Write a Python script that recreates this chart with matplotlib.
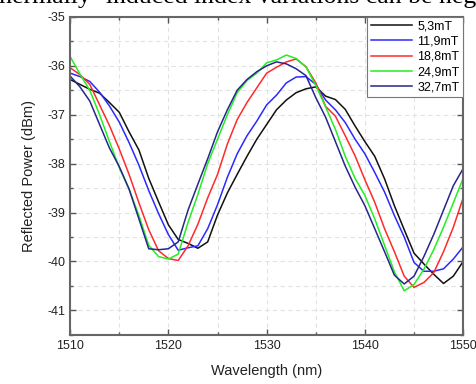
import matplotlib
matplotlib.use("Agg")
import matplotlib.pyplot as plt
from matplotlib.ticker import MultipleLocator

plt.rcParams['font.family'] = ['Liberation Sans', 'DejaVu Sans']
plt.rcParams['axes.unicode_minus'] = False

# wavelength grid (nm), values at 1 nm steps
wavelength = list(range(1510, 1551))

p_5_3 = [-36.28, -36.38, -36.48, -36.56, -36.75, -36.95, -37.35, -37.72, -38.30, -38.78,
         -39.25, -39.55, -39.63, -39.73, -39.60, -39.05, -38.60, -38.22, -37.85, -37.50,
         -37.20, -36.90, -36.70, -36.55, -36.47, -36.43, -36.62, -36.69, -36.89, -37.23,
         -37.55, -37.85, -38.31, -38.86, -39.35, -39.83, -40.05, -40.26, -40.45, -40.30,
         -40.00]
p_11_9 = [-36.15, -36.22, -36.32, -36.54, -36.82, -37.15, -37.57, -38.03, -38.55, -39.02,
          -39.45, -39.77, -39.72, -39.68, -39.33, -38.84, -38.28, -37.80, -37.43, -37.13,
          -36.80, -36.60, -36.35, -36.23, -36.22, -36.38, -36.70, -36.90, -37.16, -37.50,
          -37.80, -38.18, -38.58, -39.06, -39.50, -40.02, -40.20, -40.20, -40.15, -39.95,
          -39.70]
p_18_8 = [-36.04, -36.18, -36.38, -36.80, -37.22, -37.70, -38.22, -38.80, -39.35, -39.78,
          -39.94, -39.98, -39.68, -39.24, -38.70, -38.22, -37.60, -37.10, -36.75, -36.45,
          -36.15, -36.03, -35.92, -35.86, -36.02, -36.35, -36.83, -37.03, -37.43, -37.84,
          -38.33, -38.79, -39.33, -39.80, -40.30, -40.53, -40.43, -40.23, -39.80, -39.30,
          -38.70]
p_24_9 = [-35.81, -36.17, -36.50, -37.00, -37.55, -38.08, -38.52, -39.06, -39.67, -39.90,
          -39.95, -39.85, -39.20, -38.63, -38.00, -37.50, -37.00, -36.55, -36.30, -36.15,
          -35.94, -35.88, -35.78, -35.85, -36.02, -36.40, -36.84, -37.30, -37.85, -38.30,
          -38.65, -39.13, -39.67, -40.21, -40.60, -40.47, -40.16, -39.76, -39.30, -38.80,
          -38.30]
p_32_7 = [-36.21, -36.43, -36.72, -37.20, -37.68, -38.06, -38.52, -39.13, -39.74, -39.76,
          -39.74, -39.60, -38.95, -38.42, -37.90, -37.35, -36.90, -36.50, -36.28, -36.12,
          -36.00, -35.92, -35.96, -36.06, -36.20, -36.65, -37.05, -37.55, -38.05, -38.48,
          -38.86, -39.33, -39.80, -40.28, -40.46, -40.30, -39.90, -39.45, -38.95, -38.45,
          -38.10]

labels = ['5,3mT', '11,9mT', '18,8mT', '24,9mT', '32,7mT']
series = [p_5_3, p_11_9, p_18_8, p_24_9, p_32_7]
colors = ['#111111', '#2a2aff', '#ff2a2a', '#22ee22', '#26268c']

fig = plt.figure(figsize=(4.77, 3.84), dpi=100)
ax = fig.add_axes([0.147, 0.128, 0.824, 0.828])

for vals, lab, c in zip(series, labels, colors):
    ax.plot(wavelength, vals, color=c, linewidth=1.1, label=lab)

ax.set_xlim(1510, 1550)
ax.set_ylim(-41.5, -35)
ax.xaxis.set_major_locator(MultipleLocator(10))
ax.xaxis.set_minor_locator(MultipleLocator(5))
ax.yaxis.set_major_locator(MultipleLocator(1))
ax.yaxis.set_minor_locator(MultipleLocator(0.5))
ax.tick_params(which='both', direction='in', top=True, right=True,
               colors='#555555', labelcolor='#222222', labelsize=9)
ax.tick_params(which='major', length=4, width=1)
ax.tick_params(which='minor', length=2.5, width=1)
ax.grid(True, which='both', linestyle=(0, (4, 3)), color='#e2e2e2', linewidth=0.8)
ax.set_axisbelow(True)
for s in ax.spines.values():
    s.set_color('#666666')
    s.set_linewidth(1.5)

ax.set_xlabel('Wavelength (nm)', fontsize=10.5, color='#222222', labelpad=9)
ax.set_ylabel('Reflected Power (dBm)', fontsize=10.5, color='#222222', labelpad=8)

leg = ax.legend(loc='upper right', borderaxespad=0, fancybox=False, fontsize=9,
                handlelength=3.3, handletextpad=0.4, labelspacing=0.25,
                borderpad=0.3, framealpha=1)
leg.get_frame().set_edgecolor('#777777')
leg.get_frame().set_linewidth(0.8)

# clipped line of the surrounding page text
fig.text(-0.017, 0.991, 'thermally- induced index variations can be neg', fontsize=18.5,
         family='Liberation Serif', va='baseline', ha='left')

fig.savefig('out.png', dpi=100)
